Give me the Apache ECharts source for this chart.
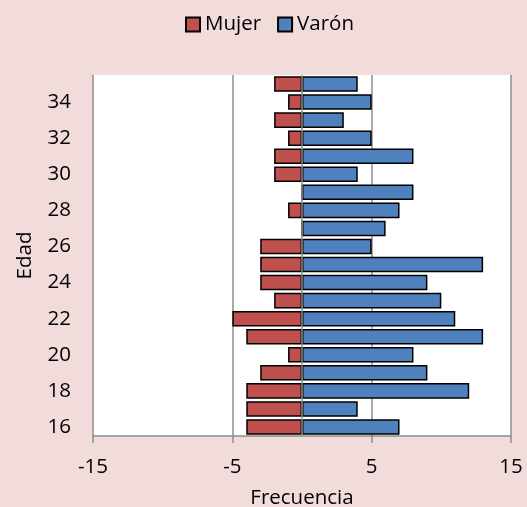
<!DOCTYPE html>
<html><head><meta charset="utf-8">
<script src="https://cdn.jsdelivr.net/npm/echarts@6/dist/echarts.min.js"></script>
<style>html,body{margin:0;padding:0;background:#F2DCDB;}#c{width:527px;height:507px;}</style>
</head><body><div id="c"></div>
<script>
const ages = ['16','17','18','19','20','21','22','23','24','25','26','27','28','29','30','31','32','33','34','35'];
const mujer = [-4,-4,-4,-3,-1,-4,-5,-2,-3,-3,-3,0,-1,0,-2,-2,-1,-2,-1,-2];
const varon = [7,4,12,9,8,13,11,10,9,13,5,6,7,8,4,8,5,3,5,4];
const xTicks = [-15,-5,5,15];
const FONT = 'Open Sans';
const FS = 20.5;
const chart = echarts.init(document.getElementById('c'));
chart.setOption({
  backgroundColor: '#F2DCDB',
  textStyle: {fontFamily: FONT},
  legend: {
    top: 9, left: 180, itemWidth: 14, itemHeight: 14, itemGap: 16,
    icon: 'rect',
    textStyle: {fontFamily: FONT, fontSize: FS, color: '#000', padding: [0,0,0,0]},
    data: ['Mujer','Varón']
  },
  grid: {left: 93, right: 16, top: 75, bottom: 71, backgroundColor: '#fff', show: true, borderWidth: 0,
         outerBoundsMode: 'none', containLabel: false},
  xAxis: {
    type: 'value', min: xTicks[0], max: xTicks[xTicks.length-1], interval: 10,
    name: 'Frecuencia', nameLocation: 'middle', nameGap: 52,
    nameTextStyle: {fontFamily: FONT, fontSize: FS, color: '#000'},
    axisLine: {show: true, lineStyle: {color: '#8c8c8c', width: 1.5}},
    axisTick: {show: true, length: 7, lineStyle: {color: '#8c8c8c', width: 1.5}},
    axisLabel: {fontFamily: FONT, fontSize: FS, color: '#000', margin: 21},
    splitLine: {show: true, lineStyle: {color: '#8c8c8c', width: 1.5}}
  },
  yAxis: {
    type: 'category', data: ages,
    name: 'Edad', nameLocation: 'middle', nameGap: 57,
    nameTextStyle: {fontFamily: FONT, fontSize: FS, color: '#000'},
    axisLine: {show: false, onZero: false},
    axisTick: {show: false},
    axisLabel: {interval: 1, fontFamily: FONT, fontSize: FS, color: '#000', margin: 22},
    splitLine: {show: false}
  },
  series: [
    {
      name: 'Mujer', type: 'bar', data: mujer, barGap: '-100%', barCategoryGap: '14%',
      itemStyle: {color: '#C0504D', borderColor: '#000', borderWidth: 1.5}
    },
    {
      name: 'Varón', type: 'bar', data: varon, barGap: '-100%', barCategoryGap: '14%',
      itemStyle: {color: '#4F81BD', borderColor: '#000', borderWidth: 1.5},
      markLine: {
        silent: true, symbol: 'none', label: {show: false},
        lineStyle: {color: '#8c8c8c', width: 1.5, type: 'solid'},
        data: [{xAxis: 0}]
      }
    }
  ]
});
</script></body></html>
